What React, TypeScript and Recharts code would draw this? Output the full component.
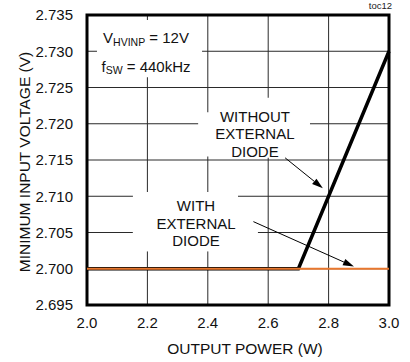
import React from 'react';
import {
  LineChart,
  Line,
  XAxis,
  YAxis,
  CartesianGrid,
  ReferenceArea,
  ReferenceLine,
  ReferenceDot,
} from 'recharts';

// Output power (W) sample points
const outputPower = [2.0, 2.7, 3.0];
// Minimum input voltage (V) without the external diode
const vinWithoutDiode = [2.7, 2.7, 2.73];
// Minimum input voltage (V) with the external diode
const vinWithDiode = [2.7, 2.7, 2.7];

const xTicks = [2.0, 2.2, 2.4, 2.6, 2.8, 3.0];
const yTicks = [2.695, 2.7, 2.705, 2.71, 2.715, 2.72, 2.725, 2.73, 2.735];

const conditionLines = ['V|HVINP| = 12V', 'f|SW| = 440kHz'];
const withoutLabel = ['WITHOUT', 'EXTERNAL', 'DIODE'];
const withLabel = ['WITH', 'EXTERNAL', 'DIODE'];

const data = outputPower.map((p, i) => ({
  p,
  without: vinWithoutDiode[i],
  with: vinWithDiode[i],
}));

const FONT = '"Liberation Sans", Arial, Helvetica, sans-serif';

// White backing boxes behind the annotations (data coordinates)
const labelBoxes = [
  { x1: 2.033, x2: 2.381, y1: 2.7264, y2: 2.7343 },
  { x1: 2.368, x2: 2.738, y1: 2.7155, y2: 2.7216 },
  { x1: 2.424, x2: 2.738, y1: 2.7153, y2: 2.7236 },
  { x1: 2.152, x2: 2.5, y1: 2.7024, y2: 2.7106 },
  { x1: 2.152, x2: 2.566, y1: 2.7024, y2: 2.7088 },
];

// Leader arrows (data coordinates)
const arrows = [
  { from: { x: 2.656, y: 2.7153 }, to: { x: 2.781, y: 2.7111 } },
  { from: { x: 2.551, y: 2.7065 }, to: { x: 2.884, y: 2.7003 } },
];

const Arrow = (props: any) => {
  const { x1, y1, x2, y2 } = props;
  const dx = x2 - x1;
  const dy = y2 - y1;
  const len = Math.hypot(dx, dy) || 1;
  const ux = dx / len;
  const uy = dy / len;
  const L = 11;
  const W = 3.5;
  const bx = x2 - ux * L;
  const by = y2 - uy * L;
  const pts = `${x2},${y2} ${bx - uy * W},${by + ux * W} ${bx + uy * W},${by - ux * W}`;
  return (
    <g>
      <line x1={x1} y1={y1} x2={bx} y2={by} stroke="#000" strokeWidth={1} />
      <polygon points={pts} fill="#000" />
    </g>
  );
};

const multiLine = (lines: string[]) => (props: any) => {
  const { cx, cy } = props;
  return (
    <text x={cx} y={cy} textAnchor="middle" fontFamily={FONT} fontSize={15} fill="#111">
      {lines.map((l, i) => (
        <tspan key={i} x={cx} dy={i === 0 ? 0 : 17.8}>
          {l}
        </tspan>
      ))}
    </text>
  );
};

// Lines written as "Main|sub|rest" get a subscript in the middle
const conditionText = (props: any) => {
  const { cx, cy } = props;
  return (
    <g fontFamily={FONT} fill="#111">
      {conditionLines.map((l, i) => {
        const [main, sub, rest] = l.split('|');
        return (
          <text key={i} x={cx} y={cy + i * 28.4} textAnchor="middle" fontSize={15}>
            {main}
            <tspan fontSize={10.5} dy={2.5}>
              {sub}
            </tspan>
            <tspan dy={-2.5}>{rest}</tspan>
          </text>
        );
      })}
    </g>
  );
};

export default function App() {
  return (
    <div style={{ position: 'absolute', left: 0, top: 0, width: 410, height: 362, background: '#fff' }}>
      <div
        style={{
          position: 'absolute',
          right: 18,
          top: 0,
          fontFamily: FONT,
          fontSize: 9.5,
          color: '#222',
          lineHeight: '12px',
        }}
      >
        toc12
      </div>
      <LineChart
        width={410}
        height={362}
        data={data}
        margin={{ top: 15, right: 21, left: 0, bottom: 0 }}
      >
        <CartesianGrid stroke="#2a2a2a" strokeWidth={1} />
        <XAxis
          dataKey="p"
          type="number"
          domain={[2, 3]}
          ticks={xTicks}
          tickFormatter={(v: number) => v.toFixed(1)}
          axisLine={false}
          tickLine={false}
          tickSize={0}
          tickMargin={12}
          height={57}
          tick={{ fill: '#111', fontSize: 15, fontFamily: FONT }}
          label={{
            content: (p: any) => {
              const vb = p.viewBox;
              return (
                <text
                  x={vb.x + vb.width / 2 + 7}
                  y={vb.y + 49}
                  textAnchor="middle"
                  fontFamily={FONT}
                  fontSize={15.5}
                  fill="#111"
                >
                  OUTPUT POWER (W)
                </text>
              );
            },
          }}
        />
        <YAxis
          type="number"
          domain={[2.695, 2.735]}
          ticks={yTicks}
          tickFormatter={(v: number) => v.toFixed(3)}
          axisLine={false}
          tickLine={false}
          tickSize={0}
          tickMargin={14}
          width={87}
          tick={{ fill: '#111', fontSize: 15, fontFamily: FONT }}
          label={{
            content: (p: any) => {
              const vb = p.viewBox;
              const cx = vb.x + 30;
              const cy = vb.y + vb.height / 2 + 2;
              return (
                <text
                  x={cx}
                  y={cy}
                  transform={`rotate(-90, ${cx}, ${cy})`}
                  textAnchor="middle"
                  fontFamily={FONT}
                  fontSize={15.5}
                  fill="#111"
                >
                  MINIMUM INPUT VOLTAGE (V)
                </text>
              );
            },
          }}
        />
        {labelBoxes.map((b, i) => (
          <ReferenceArea
            key={`box${i}`}
            x1={b.x1}
            x2={b.x2}
            y1={b.y1}
            y2={b.y2}
            fill="#fff"
            fillOpacity={1}
            stroke="none"
          />
        ))}
        <Line
          dataKey="without"
          type="linear"
          stroke="#000"
          strokeWidth={3.5}
          dot={false}
          isAnimationActive={false}
        />
        <Line
          dataKey="with"
          type="linear"
          stroke="#E8772E"
          strokeWidth={2}
          dot={false}
          isAnimationActive={false}
        />
        <ReferenceArea
          x1={2}
          x2={3}
          y1={2.695}
          y2={2.735}
          fill="none"
          fillOpacity={0}
          stroke="#000"
          strokeWidth={3}
        />
        {arrows.map((a, i) => (
          <ReferenceLine key={`arrow${i}`} segment={[a.from, a.to]} shape={Arrow} />
        ))}
        <ReferenceDot x={2.1954} y={2.7311} r={0} shape={conditionText} />
        <ReferenceDot x={2.556} y={2.7203} r={0} shape={multiLine(withoutLabel)} />
        <ReferenceDot x={2.361} y={2.708} r={0} shape={multiLine(withLabel)} />
      </LineChart>
    </div>
  );
}
